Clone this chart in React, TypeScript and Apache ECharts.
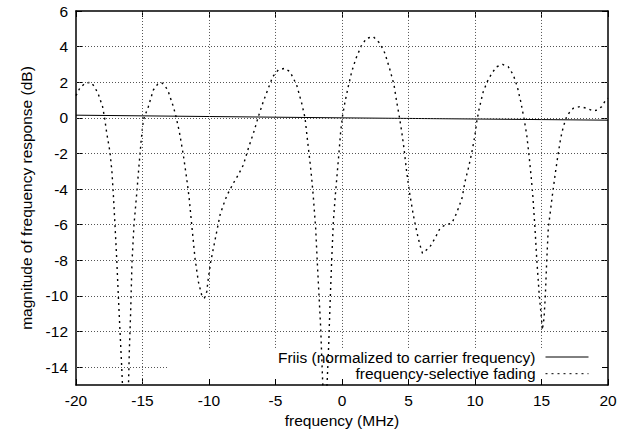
import React, { useEffect, useRef } from "react";
import * as echarts from "echarts";

// x ticks / y ticks
const xTicks = [-20, -15, -10, -5, 0, 5, 10, 15, 20];
const yTicks = [-14, -12, -10, -8, -6, -4, -2, 0, 2, 4, 6];

// Friis (normalized to carrier frequency)
const friisFreq = [-20, 0, 20];
const friisDb = [0.15, 0, -0.13];

// frequency-selective fading
const fadingFreq = [
  -20, -19.7, -19.3, -18.9, -18.6, -18.3, -18.0, -17.85, -17.7, -17.45, -17.3, -17.2, -17.07,
  -16.94, -16.82, -16.69, -16.56, -16.45, -16.3, -16.15, -16.05, -15.99, -15.89, -15.79, -15.64,
  -15.44, -15.26, -15.11, -14.94, -14.56, -14.19, -13.85, -13.56, -13.3, -13.06, -12.68, -12.48,
  -12.23, -11.93, -11.68, -11.5, -11.3, -11.05, -10.8, -10.55, -10.35, -10.17, -10.05, -9.87,
  -9.62, -9.42, -9.17, -8.92, -8.65, -8.17, -7.8, -7.42, -7.04, -6.6, -6.29, -5.92, -5.54,
  -5.21, -4.79, -4.3, -3.91, -3.41, -3.03, -2.78, -2.61, -2.41, -2.28, -2.16, -1.98, -1.86,
  -1.73, -1.6, -1.53, -1.45, -1.3, -1.12, -1.0, -0.9, -0.78, -0.65, -0.5, -0.35, -0.2, -0.1,
  0.05, 0.23, 0.47, 0.73, 1.05, 1.48, 1.86, 2.35, 2.86, 3.23, 3.61, 3.91, 4.11, 4.31, 4.49,
  4.66, 4.86, 5.08, 5.36, 5.62, 5.86, 6.05, 6.3, 6.62, 6.99, 7.37, 7.74, 8.25, 8.5, 8.75, 9.02,
  9.25, 9.5, 9.75, 10.0, 10.13, 10.32, 10.62, 10.92, 11.26, 11.63, 12.08, 12.5, 12.88, 13.18,
  13.44, 13.68, 13.89, 14.06, 14.21, 14.35, 14.51, 14.64, 14.83, 15.0, 15.06, 15.19, 15.29,
  15.39, 15.51, 15.8, 16.02, 16.22, 16.44, 16.64, 16.89, 17.14, 17.39, 17.89, 18.4, 18.9, 19.2,
  19.53, 19.83, 20,
];
const fadingDb = [
  1.25, 1.69, 1.95, 2.0, 1.75, 1.28, 0.63, 0.0, -0.8, -1.9, -3.0, -4.2, -6.0,
  -7.9, -9.95, -12.0, -14.05, -16.0, -17.5, -16.0, -14.9, -13.1, -10.9, -8.1, -6.0,
  -4.3, -2.65, -1.35, -0.12, 0.63, 1.56, 1.9, 1.97, 1.8, 1.47, 0.63, 0.07,
  -0.78, -2.09, -3.39, -4.45, -6.0, -7.9, -9.2, -9.95, -10.13, -9.76, -9.0, -8.08,
  -7.14, -6.39, -5.45, -4.89, -4.35, -3.67, -3.2, -2.65, -1.71, -0.72, 0.07, 0.91, 1.66,
  2.31, 2.69, 2.78, 2.59, 1.85, 0.82, 0.0, -1.15, -2.46, -3.39, -4.4, -6.2, -8.08,
  -9.95, -11.82, -13.3, -14.9, -17.0, -14.9, -12.75, -10.5, -8.08, -5.83, -4.33, -3.02, -1.71, -0.78,
  0.16, 0.91, 1.75, 2.59, 3.34, 4.09, 4.47, 4.56, 4.18, 3.62, 2.69, 1.85, 0.91, 0.07, -0.78,
  -1.71, -3.02, -4.2, -5.45, -6.39, -7.14, -7.6, -7.45, -7.23, -6.76, -6.2, -6.02, -5.92, -5.55, -5.08, -4.52,
  -3.58, -2.83, -1.99, -0.96, -0.22, 0.54, 1.47, 2.03, 2.5, 2.87, 3.0, 2.87, 2.41, 1.75,
  0.91, -0.02, -0.96, -2.09, -3.21, -4.4, -6.2, -7.89, -9.95, -11.26, -11.91, -11.26, -9.95,
  -8.08, -6.2, -4.45, -3.21, -2.18, -1.15, -0.5, 0.07, 0.35, 0.54, 0.63, 0.54, 0.39, 0.44,
  0.63, 1.0, 1.1,
];

const FONT = "'Liberation Sans', Arial, Helvetica, sans-serif";
const FS = 15.5;
const X_MIN = -20, X_MAX = 20, Y_MIN = -15, Y_MAX = 6;
// key box (area where gnuplot leaves out the grid)
const KEY_LEFT = -13.16, KEY_TOP = -12.92;

export default function App() {
  const ref = useRef<HTMLDivElement>(null);
  useEffect(() => {
    if (!ref.current) return;
    const chart = echarts.init(ref.current, null, { renderer: "svg" });

    const gridSegs: any[] = [];
    xTicks.filter((v) => v > X_MIN && v < X_MAX).forEach((v) => {
      const bottom = v > KEY_LEFT ? KEY_TOP : Y_MIN;
      gridSegs.push([{ coord: [v, bottom] }, { coord: [v, Y_MAX] }]);
    });
    yTicks.filter((v) => v > Y_MIN && v < Y_MAX).forEach((v) => {
      const right = v < KEY_TOP ? KEY_LEFT : X_MAX;
      gridSegs.push([{ coord: [X_MIN, v] }, { coord: [right, v] }]);
    });

    const axisLine = { show: true, onZero: false, lineStyle: { color: "#000", width: 1.5 } };
    const tick = { show: true, inside: true, length: 6, lineStyle: { color: "#000", width: 1 } };

    chart.setOption({
      animation: false,
      backgroundColor: "#fff",
      grid: { left: 76, right: 27, top: 11, bottom: 54, containLabel: false },
      legend: {
        data: ["Friis (normalized to carrier frequency)", "frequency-selective fading"],
        orient: "vertical",
        right: 46,
        top: 349,
        align: "right",
        itemWidth: 43,
        itemHeight: 16,
        itemGap: 0.7,
        padding: 0,
        itemStyle: { opacity: 0, borderWidth: 0 },
        lineStyle: { width: 1 },
        textStyle: { fontFamily: FONT, fontSize: FS, color: "#000", padding: [0, 5, 0, 0] },
      },
      xAxis: [
        {
          type: "value",
          min: X_MIN,
          max: X_MAX,
          interval: 5,
          name: "frequency (MHz)",
          nameLocation: "middle",
          nameGap: 26,
          nameTextStyle: { fontFamily: FONT, fontSize: FS, color: "#000" },
          axisLine,
          axisTick: tick,
          splitLine: { show: false },
          axisLabel: { fontFamily: FONT, fontSize: FS, color: "#000", margin: 7 },
        },
        {
          type: "value",
          position: "top",
          min: X_MIN,
          max: X_MAX,
          interval: 5,
          axisLine,
          axisTick: tick,
          splitLine: { show: false },
          axisLabel: { show: false },
        },
      ],
      yAxis: [
        {
          type: "value",
          min: Y_MIN,
          max: Y_MAX,
          name: "magnitude of frequency response (dB)",
          nameLocation: "middle",
          nameGap: 42,
          nameTextStyle: { fontFamily: FONT, fontSize: FS, color: "#000" },
          axisLine,
          axisTick: { ...tick, customValues: yTicks },
          splitLine: { show: false },
          axisLabel: { fontFamily: FONT, fontSize: FS, color: "#000", margin: 8, customValues: yTicks },
        },
        {
          type: "value",
          position: "right",
          min: Y_MIN,
          max: Y_MAX,
          axisLine,
          axisTick: { ...tick, customValues: yTicks },
          splitLine: { show: false },
          axisLabel: { show: false, customValues: yTicks },
        },
      ],
      series: [
        {
          name: "grid",
          type: "line",
          data: [],
          z: 1,
          silent: true,
          markLine: {
            silent: true,
            symbol: ["none", "none"],
            label: { show: false },
            lineStyle: { type: [1, 2], color: "#555", width: 1 },
            emphasis: { disabled: true },
            data: gridSegs,
          },
        },
        {
          name: "Friis (normalized to carrier frequency)",
          type: "line",
          symbol: "none",
          z: 3,
          itemStyle: { color: "#000" },
          lineStyle: { color: "#000", width: 1, type: "solid" },
          data: friisFreq.map((f, i) => [f, friisDb[i]]),
        },
        {
          name: "frequency-selective fading",
          type: "line",
          symbol: "none",
          z: 3,
          clip: true,
          itemStyle: { color: "#000" },
          lineStyle: { color: "#000", width: 1.4, type: [2, 4] },
          data: fadingFreq.map((f, i) => [f, fadingDb[i]]),
        },
      ],
    });
    return () => chart.dispose();
  }, []);

  return (
    <div
      ref={ref}
      style={{ position: "fixed", left: 0, top: 0, width: 635, height: 439, background: "#fff" }}
    />
  );
}
